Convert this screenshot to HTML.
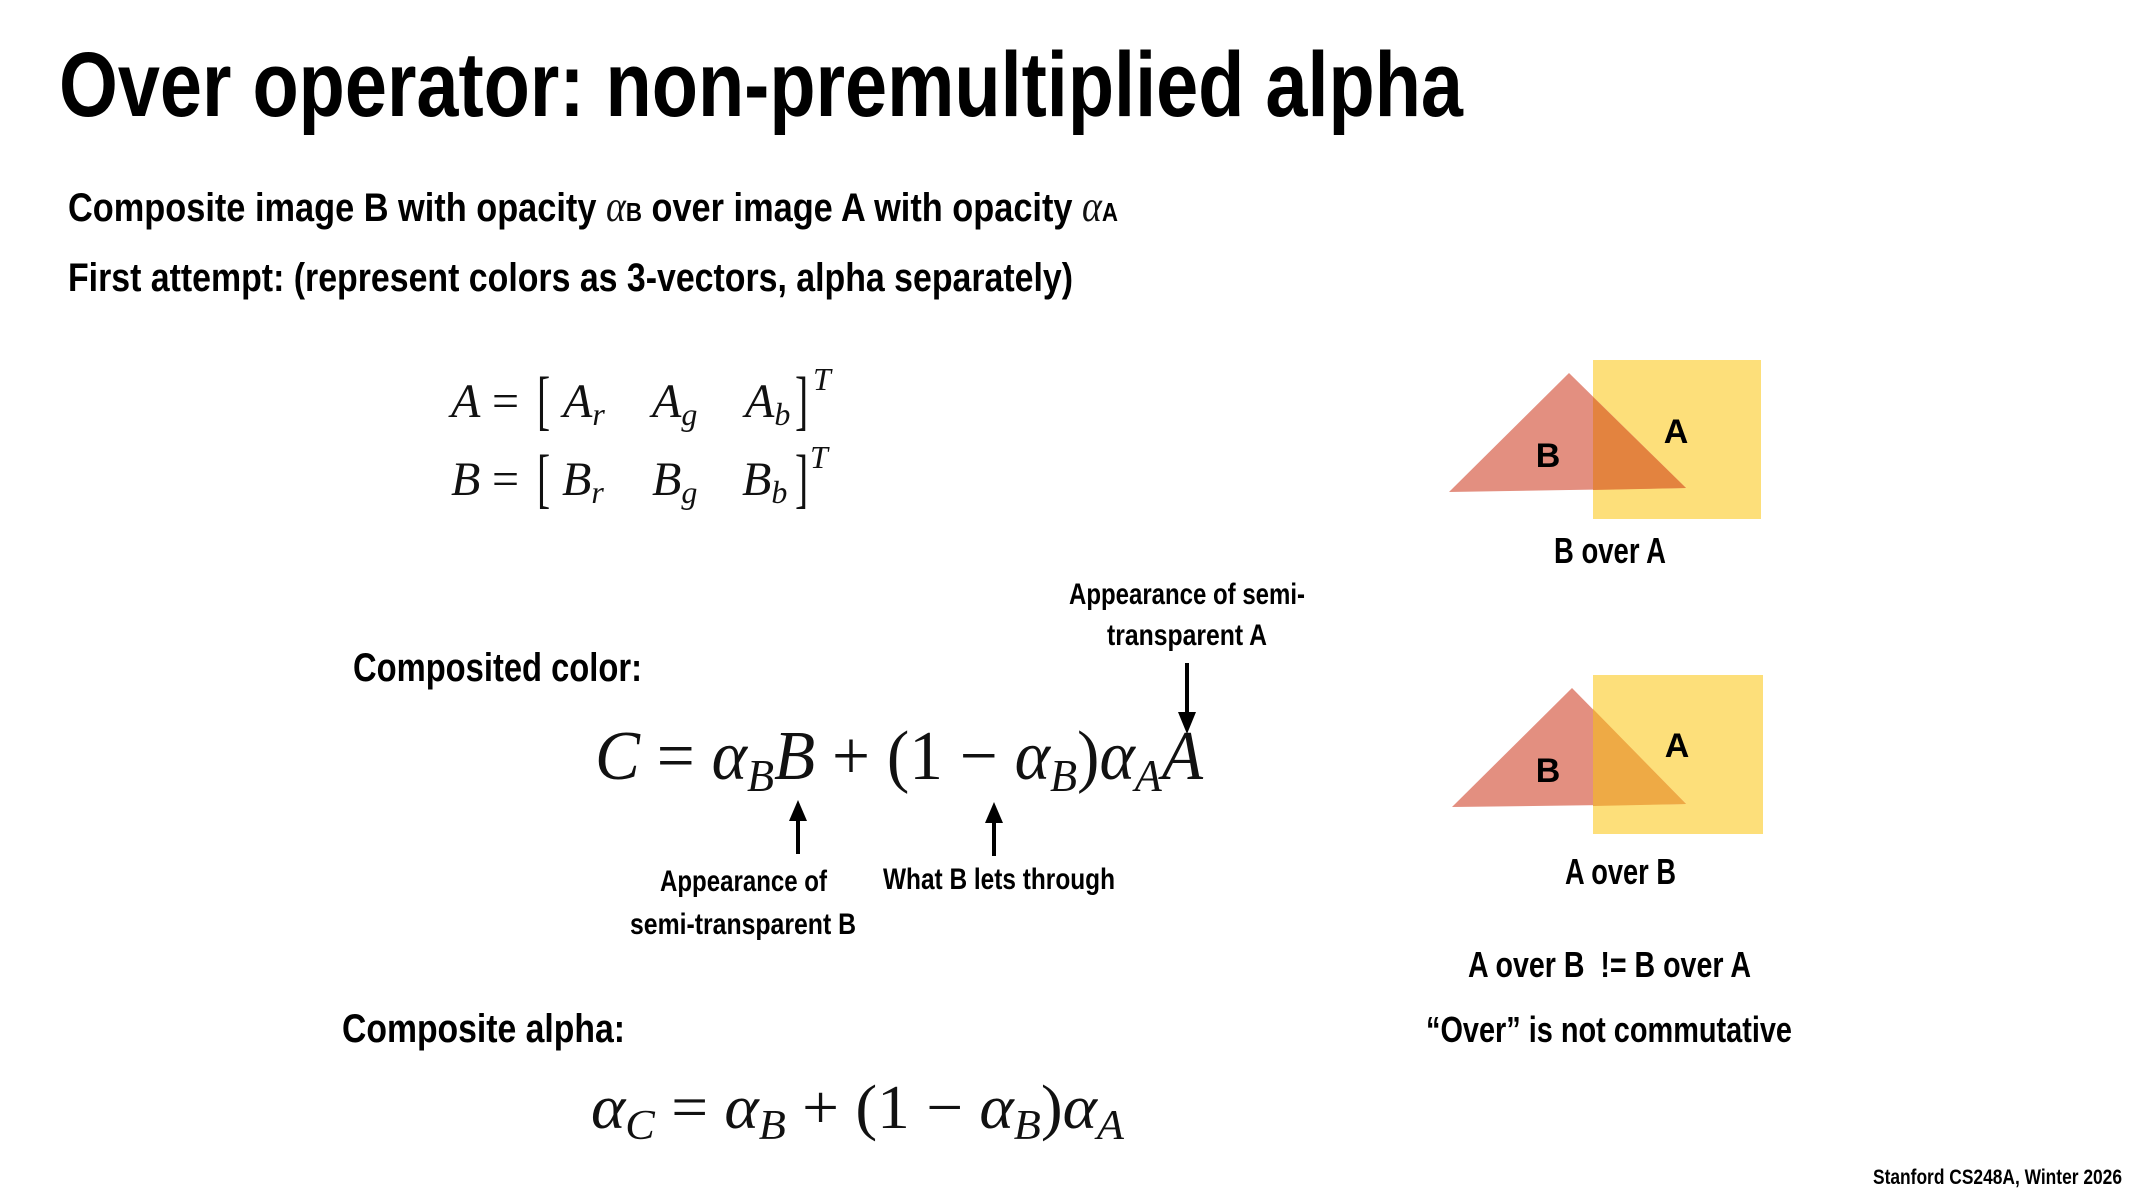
<!DOCTYPE html>
<html><head><meta charset="utf-8"><style>
html,body{margin:0;padding:0;background:#fff;}
svg{display:block}
.s{font-family:"Liberation Sans",sans-serif;font-weight:bold;fill:#000}
.m{font-family:"Liberation Serif",serif;font-style:italic;fill:#111}
.n{font-family:"Liberation Serif",serif;font-style:normal;fill:#111}
</style></head><body>
<svg width="2133" height="1200" viewBox="0 0 2133 1200" xmlns="http://www.w3.org/2000/svg">
<text class="s" x="59" y="116" font-size="92" textLength="1404" lengthAdjust="spacingAndGlyphs">Over operator: non-premultiplied alpha</text>
<text class="s" x="68" y="221" font-size="40" textLength="1050" lengthAdjust="spacingAndGlyphs">Composite image B with opacity <tspan class="m" font-weight="normal" font-size="44">α</tspan><tspan font-size="26">B</tspan> over image A with opacity <tspan class="m" font-weight="normal" font-size="44">α</tspan><tspan font-size="26">A</tspan></text>
<text class="s" x="68" y="291" font-size="40" textLength="1005" lengthAdjust="spacingAndGlyphs">First attempt: (represent colors as 3-vectors, alpha separately)</text>

<!-- A row -->
<text class="m" x="451" y="417" font-size="48">A</text>
<text class="n" x="492" y="417" font-size="48">=</text>
<text class="n" x="537" y="422" font-size="66" font-weight="normal" transform="translate(537,0) scale(0.6,1) translate(-537,0)">[</text>
<text class="m" x="563" y="417" font-size="48">A<tspan font-size="32" dy="8">r</tspan></text>
<text class="m" x="652" y="417" font-size="48">A<tspan font-size="32" dy="8">g</tspan></text>
<text class="m" x="745" y="417" font-size="48">A<tspan font-size="32" dy="8">b</tspan></text>
<text class="n" x="795" y="422" font-size="66" transform="translate(795,0) scale(0.6,1) translate(-795,0)">]</text>
<text class="m" x="813" y="390" font-size="32">T</text>
<!-- B row -->
<text class="m" x="451" y="495" font-size="48">B</text>
<text class="n" x="492" y="495" font-size="48">=</text>
<text class="n" x="537" y="500" font-size="66" transform="translate(537,0) scale(0.6,1) translate(-537,0)">[</text>
<text class="m" x="562" y="495" font-size="48">B<tspan font-size="32" dy="8">r</tspan></text>
<text class="m" x="652" y="495" font-size="48">B<tspan font-size="32" dy="8">g</tspan></text>
<text class="m" x="742" y="495" font-size="48">B<tspan font-size="32" dy="8">b</tspan></text>
<text class="n" x="795" y="500" font-size="66" transform="translate(795,0) scale(0.6,1) translate(-795,0)">]</text>
<text class="m" x="810" y="468" font-size="32">T</text>

<text class="s" x="353" y="681" font-size="40" textLength="289" lengthAdjust="spacingAndGlyphs">Composited color:</text>
<text class="m" x="595" y="779" font-size="70" textLength="608" lengthAdjust="spacingAndGlyphs">C <tspan class="n">= </tspan>α<tspan font-size="46" dy="12">B</tspan><tspan dy="-12">B </tspan><tspan class="n">+ (1 − </tspan>α<tspan font-size="46" dy="12">B</tspan><tspan class="n" dy="-12">)</tspan>α<tspan font-size="46" dy="12">A</tspan><tspan dy="-12">A</tspan></text>

<text class="s" x="1069" y="604" font-size="30" textLength="236" lengthAdjust="spacingAndGlyphs">Appearance of semi-</text>
<text class="s" x="1107" y="645" font-size="30" textLength="160" lengthAdjust="spacingAndGlyphs">transparent A</text>
<line x1="1187" y1="663" x2="1187" y2="715" stroke="#000" stroke-width="4"/>
<polygon points="1178,712 1196,712 1187,734" fill="#000"/>

<line x1="798" y1="854" x2="798" y2="818" stroke="#000" stroke-width="4"/>
<polygon points="789,821 807,821 798,800" fill="#000"/>
<line x1="994" y1="856" x2="994" y2="820" stroke="#000" stroke-width="4"/>
<polygon points="985,823 1003,823 994,802" fill="#000"/>
<text class="s" x="660" y="891" font-size="30" textLength="167" lengthAdjust="spacingAndGlyphs">Appearance of</text>
<text class="s" x="630" y="934" font-size="30" textLength="226" lengthAdjust="spacingAndGlyphs">semi-transparent B</text>
<text class="s" x="883" y="889" font-size="30" textLength="232" lengthAdjust="spacingAndGlyphs">What B lets through</text>

<text class="s" x="342" y="1042" font-size="40" textLength="283" lengthAdjust="spacingAndGlyphs">Composite alpha:</text>
<text class="m" x="591" y="1128" font-size="62" textLength="533" lengthAdjust="spacingAndGlyphs">α<tspan font-size="42" dy="11">C</tspan><tspan class="n" dy="-11"> = </tspan>α<tspan font-size="42" dy="11">B</tspan><tspan class="n" dy="-11"> + (1 − </tspan>α<tspan font-size="42" dy="11">B</tspan><tspan class="n" dy="-11">)</tspan>α<tspan font-size="42" dy="11">A</tspan></text>

<!-- top diagram -->
<rect x="1593" y="360" width="168" height="159" fill="#FDDF7A"/>
<polygon points="1569,373 1449,492 1686,488" fill="#E38F80"/>
<polygon points="1593,397 1686,488 1593,490" fill="#E3833F"/>
<text class="s" x="1548" y="467" font-size="34" text-anchor="middle">B</text>
<text class="s" x="1676" y="443" font-size="34" text-anchor="middle">A</text>
<text class="s" x="1554" y="563" font-size="36" textLength="112" lengthAdjust="spacingAndGlyphs">B over A</text>

<!-- bottom diagram -->
<rect x="1593" y="675" width="170" height="159" fill="#FDDF7A"/>
<polygon points="1572,688 1452,807 1686,804" fill="#E38F80"/>
<polygon points="1593,709 1686,804 1593,806" fill="#EEAA45"/>
<text class="s" x="1548" y="782" font-size="34" text-anchor="middle">B</text>
<text class="s" x="1677" y="757" font-size="34" text-anchor="middle">A</text>
<text class="s" x="1565" y="884" font-size="36" textLength="111" lengthAdjust="spacingAndGlyphs">A over B</text>

<text class="s" x="1468" y="977" font-size="36" textLength="283" lengthAdjust="spacingAndGlyphs" xml:space="preserve">A over B  != B over A</text>
<text class="s" x="1426" y="1042" font-size="36" textLength="366" lengthAdjust="spacingAndGlyphs">“Over” is not commutative</text>

<text class="s" x="1873" y="1184" font-size="21" textLength="249" lengthAdjust="spacingAndGlyphs">Stanford CS248A, Winter 2026</text>
</svg>
</body></html>
